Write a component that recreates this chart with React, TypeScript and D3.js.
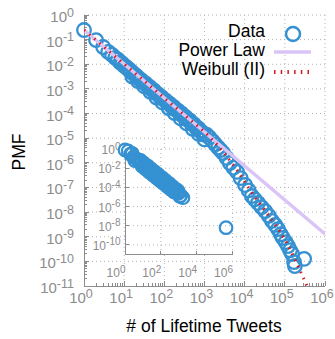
import * as d3 from "d3";

// main panel: PMF of lifetime tweets
const mainX = [
  1, 2, 3, 4, 5, 6, 7, 8, 9, 10, 11, 12, 13, 14, 15, 17, 19, 21, 24, 27, 30, 34, 38, 43, 48, 54, 60, 68, 76, 85, 95,
  107, 120, 135, 150, 170, 190, 215, 240, 270, 300, 340, 380, 430, 480, 540, 600, 680, 760, 850, 950, 1120, 1320,
  1590, 1860, 2190, 2510, 2880, 3550, 4270, 5250, 6460, 7940, 10200, 12600, 15100, 17800, 21400, 26300, 32400,
  39800, 47900, 57500, 67600, 79400, 89100, 105000, 120000, 135000, 151000, 170000, 178000, 302000,
  16, 22, 32, 45, 64, 90, 128, 180, 256, 360, 510, 720, 1000,
];
const mainY = [
  2.45e-1, 9.55e-2, 5.01e-2, 3.16e-2, 2.4e-2, 1.82e-2, 1.55e-2, 1.17e-2, 1.07e-2, 8.51e-3, 7.94e-3, 6.76e-3,
  6.31e-3, 5.37e-3, 5.13e-3, 4.17e-3, 3.63e-3, 3.16e-3, 2.51e-3, 2.24e-3, 1.82e-3, 1.66e-3, 1.32e-3, 1.2e-3,
  9.55e-4, 8.91e-4, 6.92e-4, 6.31e-4, 5.01e-4, 4.68e-4, 3.72e-4, 3.39e-4, 2.69e-4, 2.51e-4, 2.0e-4, 1.86e-4,
  1.45e-4, 1.35e-4, 1.05e-4, 1.0e-4, 7.59e-5, 7.24e-5, 5.5e-5, 5.25e-5, 3.98e-5, 3.72e-5, 2.82e-5, 2.63e-5,
  2.0e-5, 1.82e-5, 1.41e-5, 1.38e-5, 1.07e-5, 7.59e-6, 5.62e-6, 4.17e-6, 3.31e-6, 2.51e-6, 1.58e-6, 9.77e-7,
  6.31e-7, 4.27e-7, 2.4e-7, 1.26e-7, 7.59e-8, 4.47e-8, 3.31e-8, 2.34e-8, 1.58e-8, 1.1e-8, 7.08e-9, 4.37e-9,
  3.02e-9, 2.04e-9, 1.26e-9, 8.91e-10, 6.03e-10, 4.17e-10, 2.82e-10, 2.0e-10, 9.33e-11, 6.46e-11, 1.26e-10,
  3.16e-3, 2.09e-3, 1.26e-3, 7.59e-4, 4.47e-4, 2.82e-4, 1.66e-4, 1.05e-4, 6.31e-5, 3.98e-5, 2.4e-5, 1.48e-5,
  8.91e-6,
];

const powerLawX = [1, 1e6];
const powerLawY = [2.45e-1, 1.29e-9];

const weibullX = [1, 10, 100, 398, 1259, 2884, 6457, 15136, 32359, 67608, 120226, 199526, 354813, 398107];
const weibullY = [
  2.45e-1, 1.02e-2, 4.27e-4, 6.31e-5, 1.26e-5, 2.82e-6, 5.01e-7, 6.03e-8, 1.12e-8, 2.09e-9, 4.47e-10, 7.94e-11,
  1e-11, 6.31e-12,
];

// inset panel
const insetX = [
  1, 2, 3, 4, 5, 6, 8, 10, 13, 16, 20, 25, 32, 40, 50, 63, 80, 100, 130, 160, 200, 250, 320, 400, 500, 630, 700,
  800, 1000, 1300, 1700, 436000,
  1.5, 2.5, 3.5, 7, 9, 11, 14.5, 18, 22, 28, 36, 45, 56, 71, 90, 115, 145, 180, 225, 285, 360, 450, 560, 900, 1150,
];
const insetY = [
  7.94e-1, 2.82e-1, 1.51e-1, 1.0e-1, 7.08e-2, 5.37e-2, 3.55e-2, 2.51e-2, 1.7e-2, 1.26e-2, 8.91e-3, 6.31e-3,
  4.37e-3, 3.16e-3, 2.24e-3, 1.58e-3, 1.12e-3, 7.94e-4, 5.37e-4, 3.98e-4, 2.82e-4, 2.0e-4, 1.38e-4, 1.0e-4,
  7.08e-5, 5.01e-5, 6.31e-5, 3.16e-5, 2.51e-5, 1.41e-5, 8.32e-6, 6.31e-9,
  6.31e-1, 3.55e-1, 6.31e-2, 7.08e-2, 1.58e-2, 3.55e-2, 7.94e-3, 1.78e-2, 3.98e-3, 8.91e-3, 1.91e-3, 4.37e-3,
  1.0e-3, 2.19e-3, 4.79e-4, 1.05e-3, 2.34e-4, 5.25e-4, 1.2e-4, 2.63e-4, 6.03e-5, 1.26e-4, 3.16e-5, 4.47e-5,
  1.12e-5,
];

const mainXTicks = [0, 1, 2, 3, 4, 5, 6];
const mainYTicks = [0, -1, -2, -3, -4, -5, -6, -7, -8, -9, -10, -11];
const insetXTicks = [0, 2, 4, 6];
const insetYTicks = [0, -2, -4, -6, -8, -10];

const legendItems = ["Data", "Power Law", "Weibull (II)"];

const BLUE = "#3591d1";
const LAVENDER = "#dac4f6";
const RED = "#d7191c";
const AXIS = "#8c8c8c";
const GRID = "#b4b4b4";
const FONT = "'Liberation Sans', Arial, Helvetica, sans-serif";

function Pow({ x, y, e, anchor, size, sup, dy }: any) {
  return (
    <text x={x} y={y} textAnchor={anchor} fontSize={size} fill={AXIS} fontFamily={FONT}>
      <tspan>10</tspan>
      <tspan fontSize={sup} dy={dy}>
        {String(e)}
      </tspan>
    </text>
  );
}

export default function App() {
  const x = d3.scaleLog().domain([1, 1e6]).range([84, 325]);
  const y = d3.scaleLog().domain([1e-11, 1]).range([286, 15]);
  const xi = d3.scaleLog().domain([1, 1e6]).range([125, 232.5]);
  const yi = d3.scaleLog().domain([1e-11, 1]).range([254.5, 149]);

  const minorX: number[] = [];
  for (let d = 0; d < 6; d++) for (let k = 2; k <= 9; k++) minorX.push(k * 10 ** d);
  const minorY: number[] = [];
  for (let d = -11; d < 0; d++) for (let k = 2; k <= 9; k++) minorY.push(k * 10 ** d);

  const plLine = d3
    .line<number>()
    .x((_, i) => x(powerLawX[i]))
    .y((d) => y(d))(powerLawY);
  const wbLine = d3
    .line<number>()
    .x((_, i) => x(weibullX[i]))
    .y((d) => y(d))
    .curve(d3.curveMonotoneX)(weibullY);

  return (
    <svg width={335} height={339} style={{ position: "absolute", left: 0, top: 0, background: "#fff" }}>
      <defs>
        <clipPath id="plot">
          <rect x={84} y={15} width={241} height={271} />
        </clipPath>
      </defs>

      {/* main grid */}
      <g stroke={GRID} strokeWidth={1} strokeDasharray="1 3">
        {mainXTicks.slice(1).map((e) => (
          <line key={"gx" + e} x1={x(10 ** e)} x2={x(10 ** e)} y1={15} y2={286} />
        ))}
        {mainYTicks.slice(0, -1).map((e) => (
          <line key={"gy" + e} x1={84} x2={325} y1={y(10 ** e)} y2={y(10 ** e)} />
        ))}
      </g>

      {/* main axes */}
      <g stroke={AXIS} strokeWidth={1} shapeRendering="crispEdges">
        <line x1={84} x2={325} y1={286} y2={286} />
        <line x1={84} x2={84} y1={15} y2={286} />
        {mainXTicks.map((e) => (
          <line key={"tx" + e} x1={x(10 ** e)} x2={x(10 ** e)} y1={286} y2={281} />
        ))}
        {minorX.map((v) => (
          <line key={"mx" + v} x1={x(v)} x2={x(v)} y1={286} y2={283} />
        ))}
        {mainYTicks.map((e) => (
          <line key={"ty" + e} x1={84} x2={89} y1={y(10 ** e)} y2={y(10 ** e)} />
        ))}
        {minorY.map((v) => (
          <line key={"my" + v} x1={84} x2={87} y1={y(v)} y2={y(v)} />
        ))}
      </g>
      {mainXTicks.map((e) => (
        <Pow key={"lx" + e} x={x(10 ** e) - 3} y={303} e={e} anchor="middle" size={15} sup={12.5} dy={-5.5} />
      ))}
      {mainYTicks.map((e) => (
        <Pow key={"ly" + e} x={74} y={y(10 ** e) + 7} e={e} anchor="end" size={15} sup={12.5} dy={-5.5} />
      ))}

      <text x={204} y={332} textAnchor="middle" fontSize={17.5} fontFamily={FONT} fill="#000">
        # of Lifetime Tweets
      </text>
      <text
        transform="translate(25,152) rotate(-90)"
        textAnchor="middle"
        fontSize={17.5}
        fontFamily={FONT}
        fill="#000"
      >
        PMF
      </text>

      {/* inset */}
      <rect x={125} y={149} width={107.5} height={105.5} fill="#fff" />
      <g stroke={GRID} strokeWidth={1} strokeDasharray="1 3">
        {insetXTicks.slice(1).map((e) => (
          <line key={"igx" + e} x1={xi(10 ** e)} x2={xi(10 ** e)} y1={149} y2={254.5} />
        ))}
        {insetYTicks.map((e) => (
          <line key={"igy" + e} x1={125} x2={232.5} y1={yi(10 ** e)} y2={yi(10 ** e)} />
        ))}
      </g>
      <g stroke={AXIS} strokeWidth={1} shapeRendering="crispEdges">
        <line x1={125} x2={232.5} y1={254.5} y2={254.5} />
        <line x1={125} x2={125} y1={149} y2={254.5} />
        {insetXTicks.map((e) => (
          <line key={"itx" + e} x1={xi(10 ** e)} x2={xi(10 ** e)} y1={254.5} y2={251} />
        ))}
        {insetYTicks.map((e) => (
          <line key={"ity" + e} x1={125} x2={128.5} y1={yi(10 ** e)} y2={yi(10 ** e)} />
        ))}
      </g>
      {insetXTicks.map((e) => (
        <Pow key={"ilx" + e} x={xi(10 ** e) - 9} y={277} e={e} anchor="middle" size={12} sup={10} dy={-4.5} />
      ))}
      {insetYTicks.map((e) => (
        <Pow key={"ily" + e} x={120.5} y={yi(10 ** e) + 5} e={e} anchor="end" size={12} sup={10} dy={-4.5} />
      ))}
      <g fill="none" stroke={BLUE} strokeWidth={2.2}>
        {insetY.map((v, i) => (
          <circle key={"ic" + i} cx={xi(insetX[i])} cy={yi(v)} r={6.3} />
        ))}
      </g>

      {/* main series */}
      <g fill="none" stroke={BLUE} strokeWidth={2.3}>
        {mainY.map((v, i) => (
          <circle key={"c" + i} cx={x(mainX[i])} cy={y(v)} r={6.8} />
        ))}
      </g>
      <g clipPath="url(#plot)">
        <path d={plLine || ""} fill="none" stroke={LAVENDER} strokeWidth={3.5} />
        <path d={wbLine || ""} fill="none" stroke={RED} strokeWidth={3} strokeDasharray="1.5 5.2" />
      </g>

      {/* legend */}
      {legendItems.map((t, i) => (
        <text
          key={t}
          x={265}
          y={[37, 56, 74.5][i]}
          textAnchor="end"
          fontSize={17.5}
          fontFamily={FONT}
          fill="#000"
        >
          {t}
        </text>
      ))}
      <circle cx={293} cy={34} r={7} fill="none" stroke={BLUE} strokeWidth={2.5} />
      <line x1={274} x2={311} y1={52} y2={52} stroke={LAVENDER} strokeWidth={3.5} />
      <line x1={274} x2={311} y1={72} y2={72} stroke={RED} strokeWidth={4} strokeDasharray="1.5 5.2" />
    </svg>
  );
}
